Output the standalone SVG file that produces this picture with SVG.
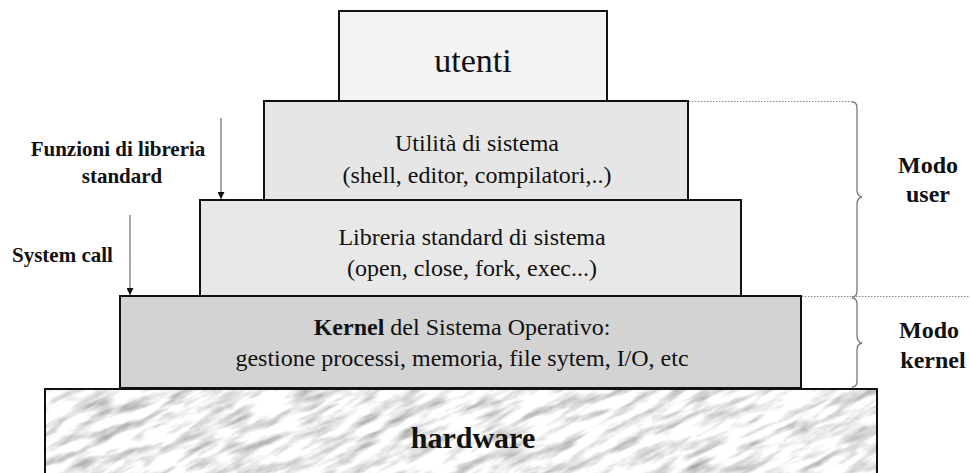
<svg xmlns="http://www.w3.org/2000/svg" width="970" height="473" viewBox="0 0 970 473">
<style>
.box{stroke:#111;stroke-width:2}
.t{font-family:"Liberation Serif","DejaVu Serif",serif;fill:#111;text-anchor:middle}
.lab{font-family:"Liberation Serif","DejaVu Serif",serif;font-weight:bold;fill:#111}
.brace{fill:none;stroke:#777;stroke-width:1.3}
.dot{stroke:#888;stroke-width:1;stroke-dasharray:1.5 1.5}
.arr{stroke:#777;stroke-width:1.3;marker-end:url(#ah)}
</style>
<defs>
<marker id="ah" viewBox="0 0 10 10" refX="10" refY="5" markerWidth="7" markerHeight="7" markerUnits="userSpaceOnUse" orient="auto">
<path d="M0,0 L10,5 L0,10 z" fill="#111"/>
</marker>
<filter id="marble" x="0" y="0" width="100%" height="100%" color-interpolation-filters="sRGB">
<feTurbulence type="fractalNoise" baseFrequency="0.025 0.11" numOctaves="4" seed="11"/>
<feColorMatrix type="matrix" values="0.33 0.33 0.33 0 0  0.33 0.33 0.33 0 0  0.33 0.33 0.33 0 0  0 0 0 0 1"/>
<feComponentTransfer>
<feFuncR type="linear" slope="1.3" intercept="0.3"/>
<feFuncG type="linear" slope="1.3" intercept="0.3"/>
<feFuncB type="linear" slope="1.3" intercept="0.3"/>
</feComponentTransfer>
</filter>
<clipPath id="hwclip"><rect x="45" y="389" width="832" height="90"/></clipPath>
</defs>
<rect width="970" height="473" fill="#fff"/>

<g id="hardware">
<rect x="45" y="389" width="832" height="90" fill="#e6e6e6"/>
<g clip-path="url(#hwclip)">
<rect x="-100" y="160" width="1140" height="540" transform="rotate(-25 460 430)" filter="url(#marble)"/>
</g>
<rect class="box" x="45" y="389" width="832" height="90" fill="none"/>
<text class="t" x="473" y="448" font-size="30" font-weight="bold">hardware</text>
</g>

<g id="kernel">
<rect class="box" x="120" y="296" width="681" height="92" fill="#d3d3d3"/>
<text class="t" x="462" y="335" font-size="24"><tspan font-weight="bold">Kernel</tspan> del Sistema Operativo:</text>
<text class="t" x="462" y="366" font-size="24">gestione processi, memoria, file sytem, I/O, etc</text>
</g>

<g id="libreria">
<rect class="box" x="200" y="200" width="541" height="96" fill="#e8e8e8"/>
<text class="t" x="472" y="245" font-size="24">Libreria standard di sistema</text>
<text class="t" x="472" y="276" font-size="24">(open, close, fork, exec...)</text>
</g>

<g id="utilita">
<rect class="box" x="264" y="101" width="424" height="99" fill="#e6e6e6"/>
<text class="t" x="477" y="151" font-size="24">Utilità di sistema</text>
<text class="t" x="477" y="183" font-size="24">(shell, editor, compilatori,..)</text>
</g>

<g id="utenti">
<rect class="box" x="339" y="11" width="268" height="90" fill="#f3f3f3"/>
<text class="t" x="473" y="72" font-size="34">utenti</text>
</g>

<g id="labels">
<text class="lab" x="118" y="156" font-size="21" text-anchor="middle">Funzioni di libreria</text>
<text class="lab" x="122" y="183" font-size="21" text-anchor="middle">standard</text>
<text class="lab" x="12" y="262" font-size="21">System call</text>
<text class="lab" x="928" y="173" font-size="24" text-anchor="middle">Modo</text>
<text class="lab" x="928" y="202" font-size="24" text-anchor="middle">user</text>
<text class="lab" x="929" y="338" font-size="24" text-anchor="middle">Modo</text>
<text class="lab" x="933" y="368" font-size="24" text-anchor="middle">kernel</text>
</g>

<g id="connectors">
<line class="arr" x1="221" y1="118" x2="221" y2="199"/>
<line class="arr" x1="130" y1="215" x2="130" y2="295"/>
<line class="dot" x1="689" y1="101.5" x2="853" y2="101.5"/>
<line class="dot" x1="802" y1="296.5" x2="970" y2="296.5"/>
<path class="brace" d="M852,102 Q857,102 857,108 L857,190 Q857,196 862,197 Q857,198 857,204 L857,291 Q857,297 852,297"/>
<path class="brace" d="M852,298 Q857,298 857,304 L857,336 Q857,342 862,343 Q857,344 857,350 L857,381 Q857,387 852,387"/>
</g>
</svg>
